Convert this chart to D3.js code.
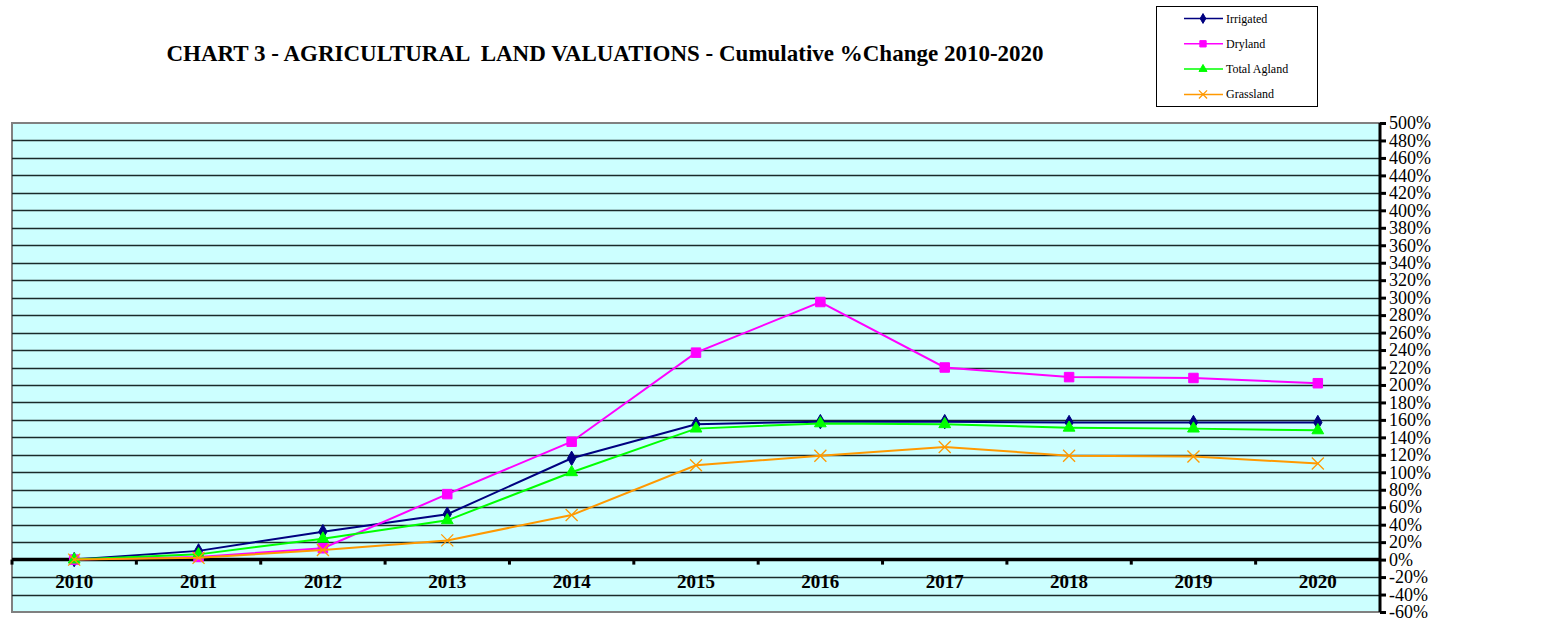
<!DOCTYPE html>
<html>
<head>
<meta charset="utf-8">
<script src="https://cdn.jsdelivr.net/npm/d3@7"></script>
<style>
  body { margin: 0; background: #fff; }
  text { font-family: "Liberation Serif", "Times New Roman", serif; }
</style>
</head>
<body>
<div id="viz"></div>
<script>
const years = ["2010","2011","2012","2013","2014","2015","2016","2017","2018","2019","2020"];
const irrigated = [0, 10, 32, 52, 116, 155, 158, 158, 157, 157, 157];
const dryland = [0, 3, 13, 75, 135, 237, 295, 220, 209, 208, 202];
const totalAgland = [0, 6, 24, 45, 100, 150, 156, 155, 151, 150, 148];
const grassland = [0, 2, 11, 22, 51, 108, 119, 129, 119, 118, 110];
const yTicks = d3.range(-60, 501, 20);

const series = [
  { name: "Irrigated", values: irrigated, color: "#000080", shape: "diamond" },
  { name: "Dryland", values: dryland, color: "#FF00FF", shape: "square" },
  { name: "Total Agland", values: totalAgland, color: "#00FF00", shape: "triangle" },
  { name: "Grassland", values: grassland, color: "#FF9900", shape: "cross" }
];

const width = 1546, height = 631;
const plotLeft = 12, plotRight = 1380, plotTop = 123, plotBottom = 612;

const svg = d3.select("#viz").append("svg")
  .attr("width", width)
  .attr("height", height);

const x = d3.scaleBand().domain(years).range([plotLeft, plotRight]);
const y = d3.scaleLinear().domain([-60, 500]).range([plotBottom, plotTop]);

// plot area
svg.append("rect")
  .attr("x", plotLeft).attr("y", plotTop)
  .attr("width", plotRight - plotLeft).attr("height", plotBottom - plotTop)
  .attr("fill", "#CCFFFF")
  .attr("stroke", "#808080")
  .attr("stroke-width", 2);

// gridlines
svg.append("g").selectAll("line")
  .data(yTicks.filter(d => d !== 0 && d !== -60 && d !== 500))
  .enter().append("line")
  .attr("x1", plotLeft).attr("x2", plotRight)
  .attr("y1", d => Math.round(y(d)) + 0.5).attr("y2", d => Math.round(y(d)) + 0.5)
  .attr("stroke", "#1a2a2a")
  .attr("stroke-width", 1.3);

// zero axis with category ticks
svg.append("line")
  .attr("x1", plotLeft).attr("x2", plotRight)
  .attr("y1", y(0)).attr("y2", y(0))
  .attr("stroke", "#000").attr("stroke-width", 3.5);

svg.append("g").selectAll("line")
  .data(years)
  .enter().append("line")
  .attr("x1", d => x(d)).attr("x2", d => x(d))
  .attr("y1", y(0)).attr("y2", y(0) + 5)
  .attr("stroke", "#000").attr("stroke-width", 3);

svg.append("g").selectAll("text")
  .data(years)
  .enter().append("text")
  .attr("x", d => x(d) + x.bandwidth() / 2)
  .attr("y", y(0) + 28)
  .attr("text-anchor", "middle")
  .attr("font-weight", "bold")
  .attr("font-size", 19)
  .text(d => d);

// right axis
const yAxis = d3.axisRight(y)
  .tickValues(yTicks)
  .tickFormat(d => d + "%")
  .tickSize(6)
  .tickPadding(3);

const ax = svg.append("g")
  .attr("transform", `translate(${plotRight},0)`)
  .call(yAxis);
ax.select(".domain").attr("stroke-width", 3).attr("d", `M0,${plotTop}V${plotBottom}`);
ax.selectAll(".tick line").attr("stroke-width", 3);
ax.selectAll(".tick text")
  .attr("font-family", "Liberation Serif, Times New Roman, serif")
  .attr("font-size", 18)
  .attr("fill", "#000");

// lines and markers
const line = d3.line()
  .x((d, i) => x(years[i]) + x.bandwidth() / 2)
  .y(d => y(d));

function drawMarker(g, shape, color, size) {
  if (shape === "cross") {
    g.append("path")
      .attr("d", d3.symbol().type(d3.symbolX).size(size * 1.6)())
      .attr("fill", "none").attr("stroke", color).attr("stroke-width", 1.3);
  } else {
    const type = shape === "diamond" ? d3.symbolDiamond
      : shape === "square" ? d3.symbolSquare : d3.symbolTriangle;
    g.append("path")
      .attr("d", d3.symbol().type(type).size(size)())
      .attr("fill", color).attr("stroke", color);
  }
}

series.forEach(s => {
  svg.append("path")
    .datum(s.values)
    .attr("d", line)
    .attr("fill", "none")
    .attr("stroke", s.color)
    .attr("stroke-width", 2);

  s.values.forEach((v, i) => {
    const g = svg.append("g")
      .attr("transform", `translate(${x(years[i]) + x.bandwidth() / 2},${y(v)})`);
    drawMarker(g, s.shape, s.color, s.shape === "square" ? 90 : 60);
  });
});

// title
svg.append("text")
  .attr("x", 605).attr("y", 61)
  .attr("text-anchor", "middle")
  .attr("font-weight", "bold")
  .attr("font-size", 23)
  .attr("xml:space", "preserve")
  .text("CHART 3 - AGRICULTURAL  LAND VALUATIONS - Cumulative %Change 2010-2020");

// legend
const legend = svg.append("g");
legend.append("rect")
  .attr("x", 1156.5).attr("y", 6.5)
  .attr("width", 161).attr("height", 100)
  .attr("fill", "#fff").attr("stroke", "#000");

series.forEach((s, i) => {
  const ly = 18.5 + i * 25.3;
  legend.append("line")
    .attr("x1", 1184).attr("x2", 1223)
    .attr("y1", ly).attr("y2", ly)
    .attr("stroke", s.color).attr("stroke-width", 1.5);
  const g = legend.append("g").attr("transform", `translate(1203,${ly})`);
  drawMarker(g, s.shape, s.color, s.shape === "square" ? 40 : 28);
  legend.append("text")
    .attr("x", 1226).attr("y", ly + 4)
    .attr("font-size", 12)
    .text(s.name);
});
</script>
</body>
</html>
